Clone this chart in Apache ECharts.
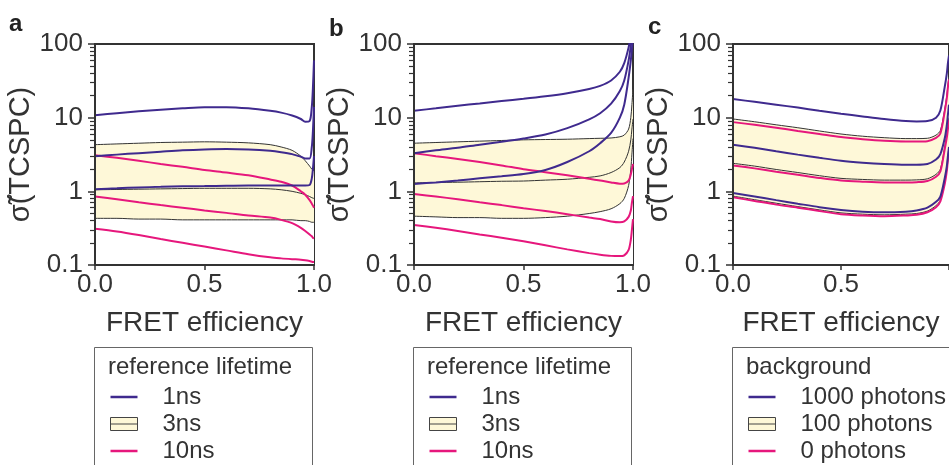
<!DOCTYPE html>
<html>
<head>
<meta charset="utf-8">
<script src="https://cdn.jsdelivr.net/npm/echarts@6.0.0/dist/echarts.min.js"></script>
<style>
  html, body { margin: 0; background: #fff; }
  #chart { width: 949px; height: 465px; }
</style>
</head>
<body>
<div id="chart"></div>
<script>
// FRET efficiency positions shared by all curves (denser near 1 where the curves turn up)
var fretX = [0, 0.1, 0.2, 0.3, 0.4, 0.5, 0.6, 0.7, 0.8, 0.85, 0.9, 0.94, 0.96, 0.98, 0.99, 0.995, 1];
var yTicks = [0.1, 1, 10, 100];
var yMinor = [0.2, 0.3, 0.4, 0.5, 0.6, 0.7, 0.8, 0.9, 2, 3, 4, 5, 6, 7, 8, 9, 20, 30, 40, 50, 60, 70, 80, 90];

// panel a : reference lifetime, three curves each
var a1ns = [
  [10.8, 11.5, 12.2, 12.8, 13.4, 13.9, 13.9, 13.4, 12.4, 11.7, 10.7, 9.6, 8.8, 9.0, 14, 25, 60],
  [3.0, 3.15, 3.3, 3.45, 3.6, 3.7, 3.75, 3.7, 3.55, 3.4, 3.2, 2.95, 2.8, 2.8, 4.0, 6.5, 14],
  [1.07, 1.1, 1.13, 1.15, 1.17, 1.18, 1.19, 1.2, 1.2, 1.2, 1.2, 1.2, 1.2, 1.22, 1.5, 2.0, 3.0]
];
var a3ns = [
  [4.3, 4.4, 4.5, 4.6, 4.65, 4.7, 4.65, 4.55, 4.3, 4.0, 3.6, 3.0, 2.6, 2.2, 2.0, 1.95, 1.9],
  [1.05, 1.06, 1.07, 1.08, 1.09, 1.1, 1.1, 1.1, 1.08, 1.05, 1.0, 0.94, 0.9, 0.85, 0.82, 0.81, 0.8],
  [0.43, 0.43, 0.42, 0.42, 0.41, 0.41, 0.41, 0.41, 0.41, 0.41, 0.41, 0.4, 0.4, 0.39, 0.38, 0.38, 0.38]
];
var a10ns = [
  [3.1, 2.85, 2.6, 2.35, 2.15, 1.95, 1.8, 1.65, 1.45, 1.35, 1.2, 1.0, 0.9, 0.76, 0.68, 0.64, 0.6],
  [0.85, 0.78, 0.71, 0.65, 0.6, 0.55, 0.51, 0.47, 0.44, 0.41, 0.37, 0.32, 0.29, 0.26, 0.245, 0.235, 0.23],
  [0.31, 0.285, 0.255, 0.225, 0.2, 0.178, 0.158, 0.14, 0.127, 0.123, 0.12, 0.118, 0.116, 0.113, 0.111, 0.11, 0.11]
];

// panel b : reference lifetime
var b1ns = [
  [12.4, 13.4, 14.5, 15.6, 16.8, 18.0, 19.5, 21.5, 24.5, 27, 32, 42, 55, 90, 130, 160, 200],
  [3.3, 3.6, 3.9, 4.3, 4.7, 5.2, 5.9, 7.2, 9.5, 11.5, 15.5, 23, 32, 60, 95, 130, 180],
  [1.26, 1.32, 1.4, 1.5, 1.6, 1.72, 1.95, 2.5, 3.5, 4.5, 6.2, 10, 15, 35, 60, 85, 120]
];
var b3ns = [
  [4.5, 4.6, 4.7, 4.8, 4.9, 5.0, 5.05, 5.1, 5.2, 5.25, 5.3, 5.5, 5.8, 7, 10, 15, 25],
  [1.3, 1.32, 1.33, 1.35, 1.37, 1.38, 1.42, 1.46, 1.55, 1.62, 1.8, 2.1, 2.5, 3.5, 5, 7, 9.6],
  [0.46, 0.45, 0.44, 0.44, 0.43, 0.43, 0.44, 0.46, 0.5, 0.53, 0.58, 0.68, 0.8, 1.2, 2, 3.2, 5.2]
];
var b10ns = [
  [3.3, 3.0, 2.75, 2.5, 2.25, 2.0, 1.82, 1.65, 1.48, 1.4, 1.32, 1.27, 1.28, 1.4, 1.7, 2.0, 2.35],
  [0.92, 0.85, 0.78, 0.71, 0.65, 0.59, 0.54, 0.49, 0.44, 0.42, 0.39, 0.38, 0.39, 0.45, 0.55, 0.7, 0.86],
  [0.35, 0.32, 0.29, 0.26, 0.235, 0.21, 0.185, 0.163, 0.145, 0.138, 0.133, 0.132, 0.135, 0.16, 0.22, 0.3, 0.42]
];

// panel c : background photons
var c1000 = [
  [17.9, 16.4, 15.0, 13.7, 12.4, 11.3, 10.4, 9.6, 9.0, 8.9, 9.0, 10.0, 12.5, 26, 40, 55, 70],
  [4.3, 3.9, 3.5, 3.15, 2.85, 2.6, 2.45, 2.35, 2.3, 2.3, 2.35, 2.7, 3.2, 5.2, 8, 11, 15],
  [0.95, 0.85, 0.76, 0.68, 0.61, 0.56, 0.53, 0.52, 0.53, 0.55, 0.6, 0.72, 0.85, 1.5, 2.2, 3, 4]
];
var c100 = [
  [9.6, 8.8, 8.0, 7.3, 6.6, 6.0, 5.6, 5.35, 5.2, 5.2, 5.25, 5.8, 6.7, 13, 20, 28, 36],
  [2.4, 2.2, 1.98, 1.8, 1.63, 1.5, 1.45, 1.42, 1.42, 1.43, 1.48, 1.7, 2.0, 4.0, 5.8, 7.5, 10],
  [0.86, 0.77, 0.69, 0.62, 0.56, 0.51, 0.49, 0.48, 0.49, 0.5, 0.54, 0.64, 0.76, 1.3, 2, 2.8, 3.8]
];
var c0 = [
  [8.7, 8.0, 7.3, 6.6, 6.0, 5.45, 5.1, 4.85, 4.75, 4.75, 4.8, 5.3, 6.1, 12, 18.5, 26, 33],
  [2.25, 2.05, 1.85, 1.68, 1.52, 1.4, 1.35, 1.32, 1.32, 1.33, 1.38, 1.58, 1.86, 3.7, 5.4, 7, 9.3],
  [0.83, 0.74, 0.66, 0.6, 0.54, 0.49, 0.47, 0.46, 0.47, 0.48, 0.52, 0.61, 0.73, 1.25, 1.9, 2.7, 3.6]
];

var FONT = 'Liberation Sans, Arial, sans-serif';
var purple = '#3f2a8e', pink = '#e6177c', bandFill = '#fef8d8', bandLine = '#333';
var tickColor = '#333';
var lineIcon = 'path://M0,0H27V2.5H0Z';

var panels = [
  { left: 95, letter: 'a', letterY: 12, title: 'reference lifetime', names: ['1ns', '3ns', '10ns'], top: a1ns, band: a3ns, low: a10ns, xLabels: [0, 0.5, 1] },
  { left: 414, letter: 'b', letterY: 17, title: 'reference lifetime', names: ['1ns', '3ns', '10ns'], top: b1ns, band: b3ns, low: b10ns, xLabels: [0, 0.5, 1] },
  { left: 733, letter: 'c', letterY: 15, title: 'background', names: ['1000 photons', '100 photons', '0 photons'], top: c1000, band: c100, low: c0, xLabels: [0, 0.5] }
];

function pts(vals) {
  return fretX.map(function (x, i) { return [x, vals[i]]; });
}

var grids = [], xAxes = [], yAxes = [], series = [], legends = [], graphics = [];

panels.forEach(function (p, i) {
  grids.push({ left: p.left, top: 44, width: 219, height: 221, show: true, borderColor: '#333', borderWidth: 2 });

  xAxes.push({
    type: 'value', gridIndex: i, min: 0, max: 1, interval: 0.5, z: 10,
    axisLine: { lineStyle: { color: '#333', width: 2 } },
    axisTick: { show: true, inside: false, length: 5, lineStyle: { color: tickColor, width: 1.5 } },
    axisLabel: { fontSize: 26, color: '#333', fontFamily: FONT, margin: 7, customValues: p.xLabels,
      formatter: function (v) { return v.toFixed(1); } },
    splitLine: { show: false },
    name: 'FRET efficiency', nameLocation: 'middle', nameGap: 44,
    nameTextStyle: { fontSize: 28, color: '#333', fontFamily: FONT }
  });

  yAxes.push({
    type: 'log', gridIndex: i, min: 0.1, max: 100, logBase: 10, position: 'left', z: 10,
    axisLine: { show: true, lineStyle: { color: '#333', width: 2 } },
    axisTick: { show: true, inside: false, length: 7, customValues: yTicks, lineStyle: { color: tickColor, width: 1.5 } },
    axisLabel: { fontSize: 26, color: '#333', fontFamily: FONT, margin: 12, customValues: yTicks,
      formatter: function (v) { return String(v); } },
    splitLine: { show: false },
    name: 'σ\u0303(TCSPC)', nameLocation: 'middle', nameGap: 46,
    nameTextStyle: { fontSize: 29, color: '#333', fontFamily: FONT }
  });
  // second log axis on the same side, only for the 2..9 minor ticks
  yAxes.push({
    type: 'log', gridIndex: i, min: 0.1, max: 100, logBase: 10, position: 'left', offset: 0, z: 10,
    axisLine: { show: true, lineStyle: { color: '#333', width: 2 } },
    axisTick: { show: true, inside: false, length: 5, customValues: yMinor, lineStyle: { color: tickColor, width: 1.2 } },
    axisLabel: { show: false },
    splitLine: { show: false }
  });

  var common = { type: 'line', xAxisIndex: i, yAxisIndex: 2 * i, symbol: 'none', smooth: 0.3, silent: true };

  // yellow band: fill under the upper curve, then blank out under the lower curve
  series.push(Object.assign({}, common, {
    name: p.names[1], data: pts(p.band[0]), lineStyle: { width: 0 },
    itemStyle: { color: bandFill }, areaStyle: { color: bandFill, opacity: 1, origin: 'start' }
  }));
  series.push(Object.assign({}, common, {
    name: p.names[1] + ' under', data: pts(p.band[2]), lineStyle: { width: 0 },
    itemStyle: { color: '#fff' }, areaStyle: { color: '#fff', opacity: 1, origin: 'start' }
  }));
  p.band.forEach(function (vals) {
    series.push(Object.assign({}, common, {
      name: p.names[1], data: pts(vals), itemStyle: { color: bandLine }, lineStyle: { color: bandLine, width: 1 }
    }));
  });
  p.low.forEach(function (vals) {
    series.push(Object.assign({}, common, {
      name: p.names[2], data: pts(vals), itemStyle: { color: pink }, lineStyle: { color: pink, width: 2 }
    }));
  });
  p.top.forEach(function (vals) {
    series.push(Object.assign({}, common, {
      name: p.names[0], data: pts(vals), itemStyle: { color: purple }, lineStyle: { color: purple, width: 2 }
    }));
  });

  legends.push({
    left: p.left + 15, top: 385, orient: 'vertical', padding: 0, itemGap: 3,
    itemWidth: 27, itemHeight: 13, selectedMode: false,
    textStyle: { fontSize: 24, color: '#333', fontFamily: FONT, lineHeight: 24, padding: [0, 0, 0, 20] },
    data: [
      { name: p.names[0], icon: lineIcon, itemStyle: { color: purple, borderWidth: 0 } },
      { name: p.names[1], icon: 'path://M0,0H27V13H0Z M0,6.5H27', itemStyle: { color: bandFill, borderColor: '#444', borderWidth: 1 } },
      { name: p.names[2], icon: lineIcon, itemStyle: { color: pink, borderWidth: 0 } }
    ]
  });

  graphics.push({ type: 'text', left: p.left - 86 + (i === 0 ? 0 : 1), top: p.letterY,
    style: { text: p.letter, font: 'bold 24px ' + FONT, fill: '#222' } });
  graphics.push({ type: 'rect', shape: { x: p.left - 0.5, y: 347.5, width: 218, height: 140 },
    style: { fill: 'none', stroke: '#666', lineWidth: 1 } });
  graphics.push({ type: 'text', x: p.left + 13, y: 367,
    style: { text: p.title, font: '24px ' + FONT, fill: '#333', verticalAlign: 'middle' } });
});

var chart = echarts.init(document.getElementById('chart'));
chart.setOption({
  animation: false,
  backgroundColor: '#fff',
  grid: grids,
  xAxis: xAxes,
  yAxis: yAxes,
  legend: legends,
  graphic: graphics,
  series: series
});
</script>
</body>
</html>
